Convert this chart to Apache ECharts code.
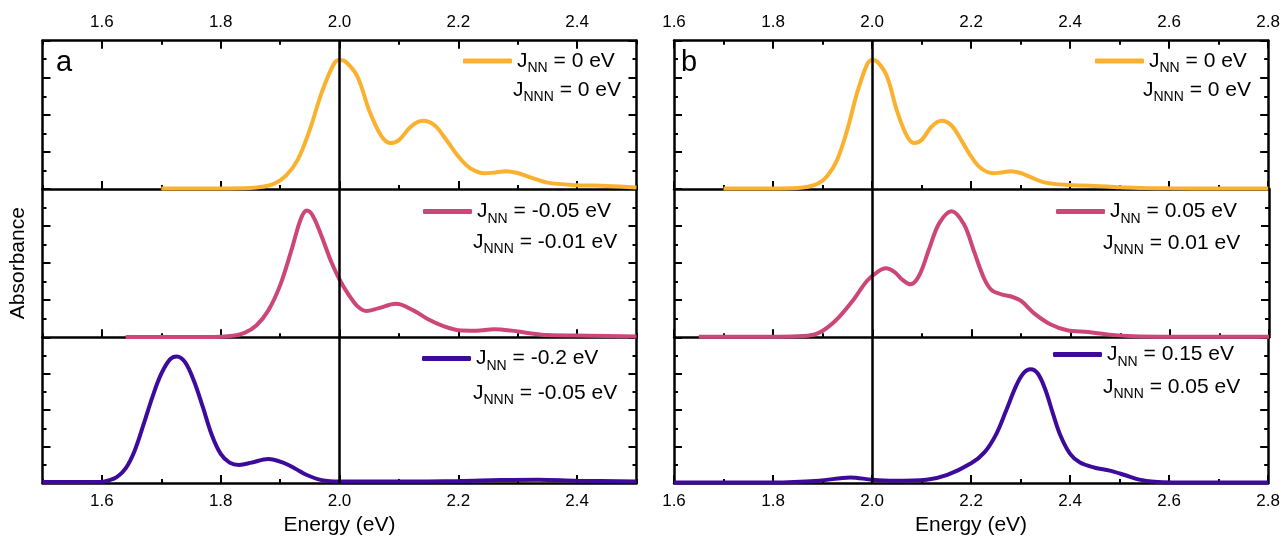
<!DOCTYPE html>
<html>
<head>
<meta charset="utf-8">
<script src="https://cdn.jsdelivr.net/npm/echarts@6/dist/echarts.min.js"></script>
<style>html,body{margin:0;padding:0;background:#fff}#c{width:1283px;height:537px}</style>
</head>
<body>
<div id="c"></div>
<script>
// ---------- data ----------
const xTicksA = [1.6, 1.8, 2.0, 2.2, 2.4];
const xTicksB = [1.6, 1.8, 2.0, 2.2, 2.4, 2.6, 2.8];
const markX = 2.0;

const jnnA = ['0', '-0.05', '-0.2'];
const jnnnA = ['0', '-0.01', '-0.05'];
const jnnB = ['0', '0.05', '0.15'];
const jnnnB = ['0', '0.01', '0.05'];

// panel a
const eA0 = [1.70,1.80,1.85,1.87,1.89,1.91,1.93,1.95,1.97,1.99,2.00,2.01,2.03,2.05,2.07,2.085,2.10,2.12,2.14,2.16,2.18,2.20,2.22,2.245,2.265,2.28,2.30,2.32,2.35,2.40,2.45,2.50];
const aA0 = [0.004,0.004,0.007,0.015,0.035,0.09,0.20,0.40,0.65,0.84,0.87,0.86,0.76,0.53,0.36,0.31,0.33,0.42,0.46,0.43,0.33,0.22,0.14,0.106,0.113,0.12,0.108,0.08,0.043,0.026,0.021,0.01];
const eA1 = [1.64,1.75,1.80,1.82,1.84,1.86,1.88,1.90,1.92,1.935,1.945,1.955,1.97,1.985,2.00,2.015,2.03,2.045,2.065,2.095,2.125,2.15,2.175,2.20,2.23,2.26,2.29,2.32,2.35,2.42,2.50];
const aA1 = [0.002,0.002,0.004,0.01,0.03,0.08,0.18,0.35,0.60,0.80,0.855,0.82,0.68,0.52,0.39,0.29,0.21,0.178,0.195,0.226,0.18,0.12,0.075,0.048,0.045,0.054,0.045,0.028,0.015,0.011,0.006];
const eA2 = [1.50,1.60,1.61,1.625,1.64,1.655,1.67,1.685,1.70,1.715,1.726,1.74,1.755,1.77,1.785,1.80,1.815,1.831,1.852,1.88,1.905,1.925,1.945,1.97,2.00,2.10,2.20,2.27,2.335,2.40,2.50];
const aA2 = [0.007,0.008,0.016,0.04,0.10,0.22,0.40,0.59,0.75,0.85,0.869,0.83,0.70,0.52,0.33,0.20,0.14,0.124,0.14,0.165,0.14,0.10,0.055,0.02,0.01,0.01,0.013,0.02,0.023,0.016,0.011];

// panel b
const eB0 = [1.70,1.80,1.85,1.87,1.89,1.91,1.93,1.95,1.97,1.99,2.00,2.01,2.03,2.05,2.07,2.085,2.10,2.12,2.14,2.16,2.18,2.20,2.22,2.245,2.265,2.28,2.30,2.32,2.35,2.40,2.45,2.50,2.55,2.60,2.70,2.80];
const aB0 = [0.004,0.004,0.007,0.015,0.035,0.09,0.20,0.40,0.65,0.84,0.87,0.86,0.76,0.53,0.36,0.31,0.33,0.42,0.46,0.43,0.33,0.22,0.14,0.106,0.113,0.12,0.108,0.08,0.043,0.027,0.021,0.011,0.007,0.005,0.003,0.003];
const eB1 = [1.65,1.80,1.86,1.892,1.925,1.96,1.989,2.01,2.027,2.045,2.06,2.077,2.095,2.115,2.135,2.16,2.185,2.205,2.225,2.24,2.26,2.28,2.30,2.327,2.36,2.393,2.435,2.477,2.527,2.60,2.80];
const aB1 = [0.003,0.004,0.008,0.03,0.11,0.245,0.38,0.44,0.465,0.44,0.39,0.357,0.42,0.60,0.77,0.85,0.76,0.58,0.40,0.32,0.29,0.275,0.245,0.16,0.086,0.047,0.035,0.018,0.007,0.004,0.003];
const eB2 = [1.60,1.80,1.893,1.956,2.00,2.044,2.11,2.152,2.20,2.227,2.25,2.27,2.29,2.305,2.32,2.335,2.35,2.365,2.38,2.40,2.42,2.45,2.48,2.51,2.54,2.57,2.61,2.80];
const aB2 = [0.004,0.004,0.016,0.038,0.023,0.016,0.023,0.056,0.135,0.21,0.33,0.49,0.66,0.75,0.78,0.75,0.64,0.48,0.33,0.20,0.14,0.105,0.085,0.055,0.023,0.008,0.004,0.003];

const colors = ['#FBB130', '#CC4778', '#3D0A9C'];

// ---------- layout ----------
const FONT = 'Liberation Sans, Arial, sans-serif';
const tops = [40.7, 189, 337.3];
const H = 148.3;
const panels = [
  {key:'a', left:42.5, width:594, min:1.5, max:2.5, ticks:xTicksA, jnn:jnnA, jnnn:jnnnA,
   e:[eA0,eA1,eA2], a:[aA0,aA1,aA2], leg:[463,423,422], leg2:[513,473,473], ly1:[61.5,212,359], ly2:[90,242,393], letterX:56},
  {key:'b', left:674, width:595, min:1.6, max:2.8, ticks:xTicksB, jnn:jnnB, jnnn:jnnnB,
   e:[eB0,eB1,eB2], a:[aB0,aB1,aB2], leg:[1095,1056,1053], leg2:[1143,1103,1103], ly1:[61.5,212,355], ly2:[90,243,387], letterX:681}
];

const rich = {
  j: {fontSize:21, lineHeight:29, fontFamily:FONT, color:'#000'},
  s: {fontSize:14, lineHeight:14, verticalAlign:'bottom', fontFamily:FONT, color:'#000'},
  t: {fontSize:21, lineHeight:29, fontFamily:FONT, color:'#000'}
};

const grids=[], xAxes=[], yAxes=[], series=[], legends=[], titles=[];
const axisLineStyle = {color:'#000', width:2.5};

panels.forEach(p => {
  titles.push({text:p.key, left:p.letterX, top:48, padding:0,
    textStyle:{fontSize:29, fontWeight:'normal', color:'#000', fontFamily:FONT}});
  for (let r = 0; r < 3; r++) {
    const gi = grids.length;
    grids.push({left:p.left, top:tops[r], width:p.width, height:H, containLabel:false});
    const positions = r === 0 ? ['bottom','top'] : ['bottom'];
    let xi = -1;
    positions.forEach(pos => {
      const showLab = (pos === 'top') || (r === 2);
      xAxes.push({gridIndex:gi, type:'value', min:p.min, max:p.max, interval:0.1, position:pos,
        axisLine:{show:true, onZero:false, lineStyle:axisLineStyle},
        axisTick:{show:true, inside:true, length:4, lineStyle:{color:'#000', width:2}},
        axisLabel:{show:false}, splitLine:{show:false}});
      if (pos === 'bottom') xi = xAxes.length - 1;
      xAxes.push({gridIndex:gi, type:'value', min:p.min, max:p.max, interval:0.1, position:pos,
        axisLine:{show:false, onZero:false},
        axisTick:{show:true, inside:true, length:8, customValues:p.ticks, lineStyle:{color:'#000', width:2}},
        axisLabel:{show:showLab, customValues:p.ticks, formatter:v => Number(v).toFixed(1),
          fontSize:17, color:'#000', fontFamily:FONT, margin:10},
        splitLine:{show:false},
        name: (pos === 'bottom' && r === 2) ? 'Energy (eV)' : '',
        nameLocation:'middle', nameGap:32,
        nameTextStyle:{fontSize:21, color:'#000', fontFamily:FONT}});
    });
    let yi = -1;
    ['left','right'].forEach(pos => {
      yAxes.push({gridIndex:gi, type:'value', min:0, max:1, interval:0.25, position:pos,
        axisLine:{show:true, onZero:false, lineStyle:axisLineStyle},
        axisTick:{show:true, inside:true, length:8, lineStyle:{color:'#000', width:2}},
        minorTick:{show:true, splitNumber:2, length:4, lineStyle:{color:'#000', width:2}},
        axisLabel:{show:false}, splitLine:{show:false}, minorSplitLine:{show:false},
        name: (p.key === 'a' && r === 1 && pos === 'left') ? 'Absorbance' : '',
        nameLocation:'middle', nameGap:14, nameRotate:90,
        nameTextStyle:{fontSize:21, color:'#000', fontFamily:FONT}});
      if (pos === 'left') yi = yAxes.length - 1;
    });
    const name = p.key + r;
    series.push({type:'line', name:name, xAxisIndex:xi, yAxisIndex:yi,
      data:p.e[r].map((x,i) => [x, p.a[r][i]]),
      smooth:0.35, showSymbol:false, symbol:'none', silent:true,
      lineStyle:{width:4, color:colors[r]}, itemStyle:{color:colors[r]},
      markLine:{symbol:'none', silent:true, label:{show:false},
        lineStyle:{color:'#000', width:2.5, type:'solid'}, data:[{xAxis:markX}]}});
    const jnn = p.jnn[r], jnnn = p.jnnn[r];
    legends.push({data:[name], left:p.leg[r], top:p.ly1[r]-11, padding:0, itemGap:0,
      icon:'roundRect', itemWidth:49, itemHeight:5, selectedMode:false,
      formatter:() => '{j|J}{s|NN}{t| = ' + jnn + ' eV}',
      textStyle:{fontSize:21, color:'#000', fontFamily:FONT, rich:rich}});
    titles.push({text:'{j|J}{s|NNN}{t| = ' + jnnn + ' eV}', left:p.leg2[r], top:p.ly2[r]-14.5, padding:0,
      textStyle:{fontSize:21, fontWeight:'normal', color:'#000', fontFamily:FONT, rich:rich}});
  }
});

const chart = echarts.init(document.getElementById('c'), null, {renderer:'canvas'});
chart.setOption({
  animation:false,
  backgroundColor:'#fff',
  title:titles, grid:grids, xAxis:xAxes, yAxis:yAxes, legend:legends, series:series
});
</script>
</body>
</html>
